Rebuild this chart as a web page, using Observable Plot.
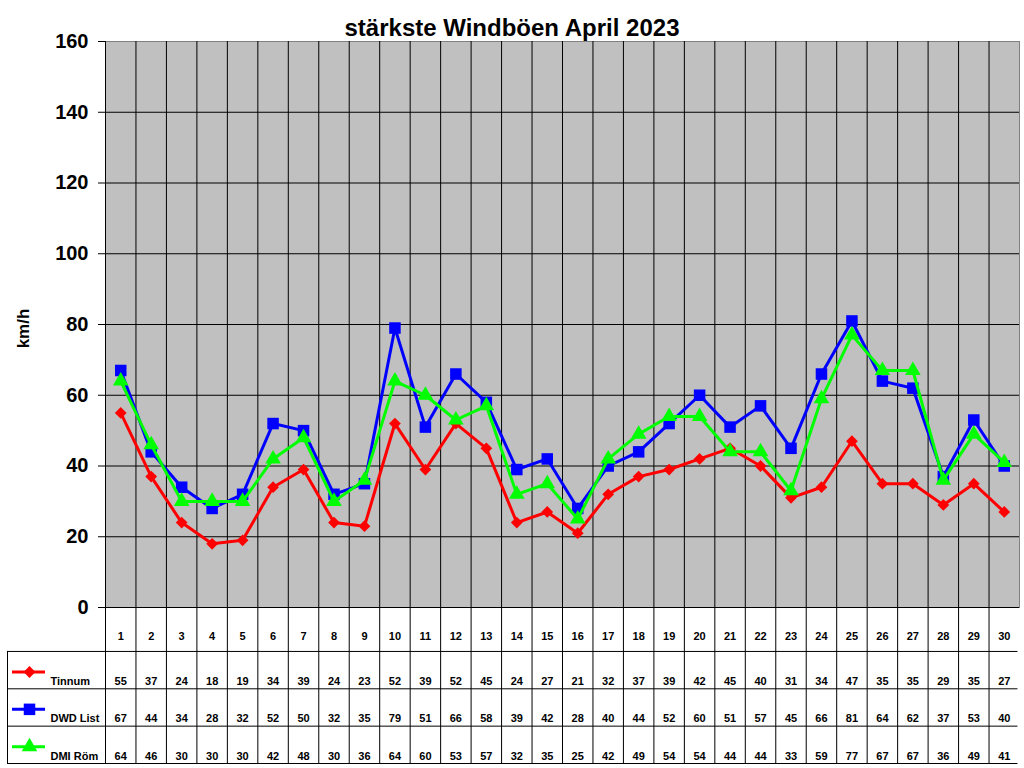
<!DOCTYPE html>
<html><head><meta charset="utf-8">
<script src="https://cdn.jsdelivr.net/npm/d3@7"></script>
<script src="https://cdn.jsdelivr.net/npm/@observablehq/plot@0.6"></script>
<style>
body{margin:0;background:#fff;font-family:"Liberation Sans",Arial,sans-serif}
#chart svg{display:block}
</style>
</head><body><div id="chart"></div>
<script>
const days = [1,2,3,4,5,6,7,8,9,10,11,12,13,14,15,16,17,18,19,20,21,22,23,24,25,26,27,28,29,30];
const tinnum  = [55,37,24,18,19,34,39,24,23,52,39,52,45,24,27,21,32,37,39,42,45,40,31,34,47,35,35,29,35,27];
const dwdList = [67,44,34,28,32,52,50,32,35,79,51,66,58,39,42,28,40,44,52,60,51,57,45,66,81,64,62,37,53,40];
const dmiRoem = [64,46,30,30,30,42,48,30,36,64,60,53,57,32,35,25,42,49,54,54,44,44,33,59,77,67,67,36,49,41];
const seriesNames = ["Tinnum","DWD List","DMI Röm"];
const seriesColors = ["#ff0000","#0000ff","#00ff00"];
const seriesSymbols = ["diamond2","square","triangle"];
const seriesR = [5.3, 6.5, 5.8];
const yTicks = [0,20,40,60,80,100,120,140,160];
const title = "stärkste Windböen April 2023";
const yLabel = "km/h";

const seriesValues = [tinnum, dwdList, dmiRoem];
const records = seriesNames.flatMap((name, i) => days.map((d, j) => ({series: name, si: i, day: d, value: seriesValues[i][j]})));
const boundaries = days.slice(0, -1).map(d => d + 0.5);

const W = 1024, ML = 105, MR = 5, LEG = 7;
const font = "'Liberation Sans', Arial, sans-serif";
const colorScale = {domain: seriesNames, range: seriesColors};

const seriesMarks = seriesNames.flatMap((name, i) => {
  const data = records.filter(r => r.series === name);
  return [
    Plot.line(data, {x: "day", y: "value", stroke: "series", strokeWidth: 3}),
    Plot.dot(data, {x: "day", y: "value", fill: "series", stroke: "none", symbol: seriesSymbols[i], r: seriesR[i]})
  ];
});

const main = Plot.plot({
  width: W, height: 608,
  marginLeft: ML, marginRight: MR, marginTop: 41, marginBottom: 1,
  style: {fontFamily: font, background: "white", overflow: "visible", color: "#000"},
  x: {type: "linear", domain: [0.5, 30.5], axis: null},
  y: {domain: [0, 160], axis: null},
  color: colorScale,
  marks: [
    Plot.frame({fill: "#c0c0c0", stroke: "#808080"}),
    Plot.ruleY(yTicks.filter(t => t > 0 && t < 160), {stroke: "#000"}),
    Plot.ruleX(boundaries, {stroke: "#000"}),
    Plot.ruleX([0.5], {stroke: "#000"}),
    Plot.ruleY([0], {stroke: "#000"}),
    Plot.axisY(yTicks, {tickSize: 7, tickPadding: 10, fontSize: 20, fontWeight: "bold", label: null}),
    ...seriesMarks,
    Plot.text([title], {frameAnchor: "top", lineAnchor: "middle", textAnchor: "middle", dx: -50.5, dy: -13, fontSize: 24, fontWeight: "bold", fill: "#000"}),
    Plot.text([yLabel], {frameAnchor: "left", lineAnchor: "middle", textAnchor: "middle", rotate: -90, dx: -82, dy: 4, fontSize: 17, fontWeight: "bold", fill: "#000"})
  ]
});

const colW = (W - ML - MR) / days.length;
const xLeg = 0.5 - (ML - LEG) / colW;
const legX = px => xLeg + (px - LEG) / colW;
const rowEdges = [0, 1.15, 2.15, 3.15, 4.15];

const table = Plot.plot({
  width: W, height: 160,
  marginLeft: LEG, marginRight: MR, marginTop: 0, marginBottom: 5,
  style: {fontFamily: font, background: "white", overflow: "visible", color: "#000"},
  x: {type: "linear", domain: [xLeg, 30.5], axis: null},
  y: {type: "linear", domain: [0, rowEdges[4]], reverse: true, axis: null},
  color: colorScale,
  marks: [
    Plot.ruleX([0.5, ...boundaries], {y1: 0, y2: rowEdges[4], stroke: "#000"}),
    Plot.ruleX([xLeg], {y1: rowEdges[1], y2: rowEdges[4], stroke: "#000"}),
    Plot.ruleY(rowEdges.slice(1), {x1: xLeg, x2: 30.45, stroke: "#000"}),
    Plot.text(days, {x: d => d, y: rowEdges[0] + 0.75, text: d => String(d), fontSize: 11, fontWeight: "bold", fill: "#000"}),
    Plot.text(records, {x: "day", y: d => rowEdges[d.si + 1] + 0.8, text: d => String(d.value), fontSize: 11, fontWeight: "bold", fill: "#000"}),
    Plot.ruleY(seriesNames, {y: (n, i) => rowEdges[i + 1] + 0.55, x1: legX(12), x2: legX(45), stroke: n => n, strokeWidth: 3}),
    ...seriesNames.map((n, i) => Plot.dot([n], {x: legX(29), y: rowEdges[i + 1] + 0.55, fill: n => n, stroke: "none", symbol: seriesSymbols[i], r: seriesR[i]})),
    Plot.text(seriesNames, {x: legX(50), y: (n, i) => rowEdges[i + 1] + 0.8, text: n => n, textAnchor: "start", fontSize: 11, fontWeight: "bold", fill: "#000"})
  ]
});

const root = document.getElementById("chart");
root.appendChild(main);
root.appendChild(table);
</script>
</body></html>
